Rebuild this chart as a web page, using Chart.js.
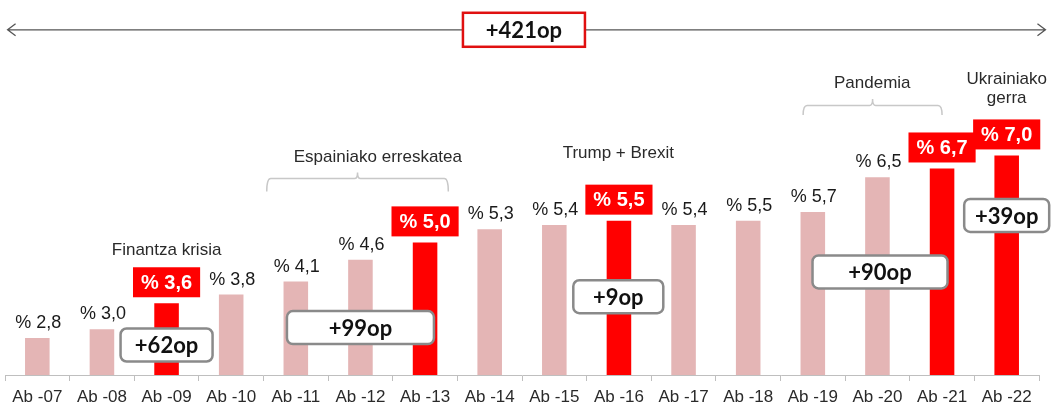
<!DOCTYPE html>
<html>
<head>
<meta charset="utf-8">
<script src="https://cdn.jsdelivr.net/npm/chart.js@4"></script>
<style>
  html, body { margin: 0; padding: 0; background: #fff; }
  #wrap { width: 1051px; height: 406px; position: relative; }
</style>
</head>
<body>
<div id="wrap"><canvas id="chart"></canvas></div>
<script>
// ---------- DATA ----------
const labels = ["Ab -07", "Ab -08", "Ab -09", "Ab -10", "Ab -11", "Ab -12", "Ab -13", "Ab -14",
  "Ab -15", "Ab -16", "Ab -17", "Ab -18", "Ab -19", "Ab -20", "Ab -21", "Ab -22"];
const values = [2.8, 3.0, 3.6, 3.8, 4.1, 4.6, 5.0, 5.3, 5.4, 5.5, 5.4, 5.5, 5.7, 6.5, 6.7, 7.0];
const highlighted = [false, false, true, false, false, false, true, false,
  false, true, false, false, false, false, true, true];

// event captions: x = category index, y = value on the (hidden) y scale
const events = [
  { lines: ["Finantza krisia"], x: 2, y: 4.82 },
  { lines: ["Espainiako erreskatea"], x: 5.27, y: 6.95 },
  { lines: ["Trump + Brexit"], x: 8.99, y: 7.05 },
  { lines: ["Pandemia"], x: 12.92, y: 8.65 },
  { lines: ["Ukrainiako", "gerra"], x: 15, y: 8.76 },
];
// brackets: from/to category index, line level, end level, nub level
const brackets = [
  { from: 3.55, to: 6.36, y: 6.47, end: 6.17, nub: 6.61 },
  { from: 11.85, to: 14.0, y: 8.15, end: 7.93, nub: 8.3 },
];
// change boxes
const changes = [
  { text: "+62op", x: 2, y: 2.64, w: 92 },
  { text: "+99op", x: 5.0, y: 3.04, w: 147 },
  { text: "+9op", x: 8.99, y: 3.75, w: 90 },
  { text: "+90op", x: 13.04, y: 4.32, w: 135 },
  { text: "+39op", x: 15, y: 5.62, w: 85 },
];
const total = { text: "+421op", x: 7.53, y: 9.89, w: 122, from: -0.46, to: 15.6 };

const PINK = "#e4b5b5";
const RED = "#ff0000";
const FONT = "'Liberation Sans', Arial, sans-serif";
const BOLD = "Lato, 'Open Sans', sans-serif";

function fmt(v) {
  return "% " + v.toFixed(1).replace(".", ",");
}

// ---------- OVERLAY PLUGIN ----------
const overlay = {
  id: "overlay",
  afterDatasetsDraw(chart) {
    const ctx = chart.ctx;
    const xs = chart.scales.x;
    const ys = chart.scales.y;
    const px = (i) => xs.getPixelForValue(i);
    const py = (v) => ys.getPixelForValue(v);

    ctx.save();

    // value labels
    chart.getDatasetMeta(0).data.forEach((bar, i) => {
      const txt = fmt(values[i]);
      if (highlighted[i]) {
        ctx.font = "bold 20px " + FONT;
        const w = ctx.measureText(txt).width + 16;
        const h = 30;
        const bottom = bar.y - 6;
        ctx.fillStyle = RED;
        ctx.fillRect(bar.x - w / 2, bottom - h, w, h);
        ctx.fillStyle = "#fff";
        ctx.textAlign = "center";
        ctx.textBaseline = "middle";
        ctx.fillText(txt, bar.x, bottom - h / 2 + 1);
      } else {
        ctx.font = "18px " + FONT;
        ctx.fillStyle = "#1a1a1a";
        ctx.textAlign = "center";
        ctx.textBaseline = "alphabetic";
        ctx.fillText(txt, bar.x + 1, bar.y - 10);
      }
    });

    // event captions
    ctx.font = "17px " + FONT;
    ctx.fillStyle = "#2a2a2a";
    ctx.textAlign = "center";
    ctx.textBaseline = "middle";
    events.forEach((e) => {
      e.lines.forEach((l, k) => {
        ctx.fillText(l, px(e.x), py(e.y) + k * 19);
      });
    });

    // brackets
    ctx.strokeStyle = "#c8c8c8";
    ctx.lineWidth = 1.5;
    brackets.forEach((b) => {
      const x1 = px(b.from), x2 = px(b.to), xm = (x1 + x2) / 2;
      const y = py(b.y), ye = py(b.end), yn = py(b.nub);
      ctx.beginPath();
      ctx.moveTo(x1, ye);
      ctx.quadraticCurveTo(x1, y, x1 + 4, y);
      ctx.lineTo(xm - 3, y);
      ctx.quadraticCurveTo(xm, y, xm, yn);
      ctx.quadraticCurveTo(xm, y, xm + 3, y);
      ctx.lineTo(x2 - 4, y);
      ctx.quadraticCurveTo(x2, y, x2, ye);
      ctx.stroke();
    });

    // change boxes
    changes.forEach((c) => {
      const cx = px(c.x), cy = py(c.y), h = 33;
      ctx.beginPath();
      ctx.roundRect(cx - c.w / 2, cy - h / 2, c.w, h, 6);
      ctx.fillStyle = "#fff";
      ctx.fill();
      ctx.strokeStyle = "#8a8a8a";
      ctx.lineWidth = 2.5;
      ctx.stroke();
      ctx.font = "bold 22px " + BOLD;
      ctx.fillStyle = "#111";
      ctx.textAlign = "center";
      ctx.textBaseline = "middle";
      ctx.fillText(c.text, cx, cy + 1);
    });

    // top arrow with total
    const ay = py(total.y);
    const ax1 = px(total.from), ax2 = px(total.to);
    ctx.strokeStyle = "#555";
    ctx.lineWidth = 1.3;
    ctx.beginPath();
    ctx.moveTo(ax1, ay);
    ctx.lineTo(ax2, ay);
    ctx.moveTo(ax1 + 8, ay - 6);
    ctx.lineTo(ax1, ay);
    ctx.lineTo(ax1 + 8, ay + 6);
    ctx.moveTo(ax2 - 8, ay - 6);
    ctx.lineTo(ax2, ay);
    ctx.lineTo(ax2 - 8, ay + 6);
    ctx.stroke();

    const tx = px(total.x), th = 34;
    ctx.fillStyle = "#fff";
    ctx.fillRect(tx - total.w / 2, ay - th / 2, total.w, th);
    ctx.strokeStyle = "#e01010";
    ctx.lineWidth = 2.5;
    ctx.strokeRect(tx - total.w / 2, ay - th / 2, total.w, th);
    ctx.font = "bold 22px " + BOLD;
    ctx.fillStyle = "#111";
    ctx.textAlign = "center";
    ctx.textBaseline = "middle";
    ctx.fillText(total.text, tx, ay + 1);

    ctx.restore();
  },
};

// ---------- CHART ----------
const ctx = document.getElementById("chart").getContext("2d");

new Chart(ctx, {
  type: "bar",
  data: {
    labels: labels,
    datasets: [
      {
        data: values,
        backgroundColor: highlighted.map((h) => (h ? RED : PINK)),
        barPercentage: 0.38,
        categoryPercentage: 1,
      },
    ],
  },
  options: {
    responsive: true,
    maintainAspectRatio: false,
    animation: false,
    layout: {
      padding: { top: 25, left: 5, right: 12, bottom: -8 },
    },
    plugins: {
      legend: { display: false },
      tooltip: { enabled: false },
    },
    scales: {
      y: {
        display: false,
        min: 1.95,
        max: 10,
      },
      x: {
        grid: {
          offset: true,
          drawOnChartArea: false,
          tickLength: 6,
          color: "#bfbfbf",
        },
        border: { color: "#bfbfbf" },
        ticks: {
          color: "#2a2a2a",
          padding: 8,
          maxRotation: 0,
          autoSkip: false,
          font: { size: 17, family: FONT, lineHeight: 1 },
        },
      },
    },
  },
  plugins: [overlay],
});
</script>
</body>
</html>
